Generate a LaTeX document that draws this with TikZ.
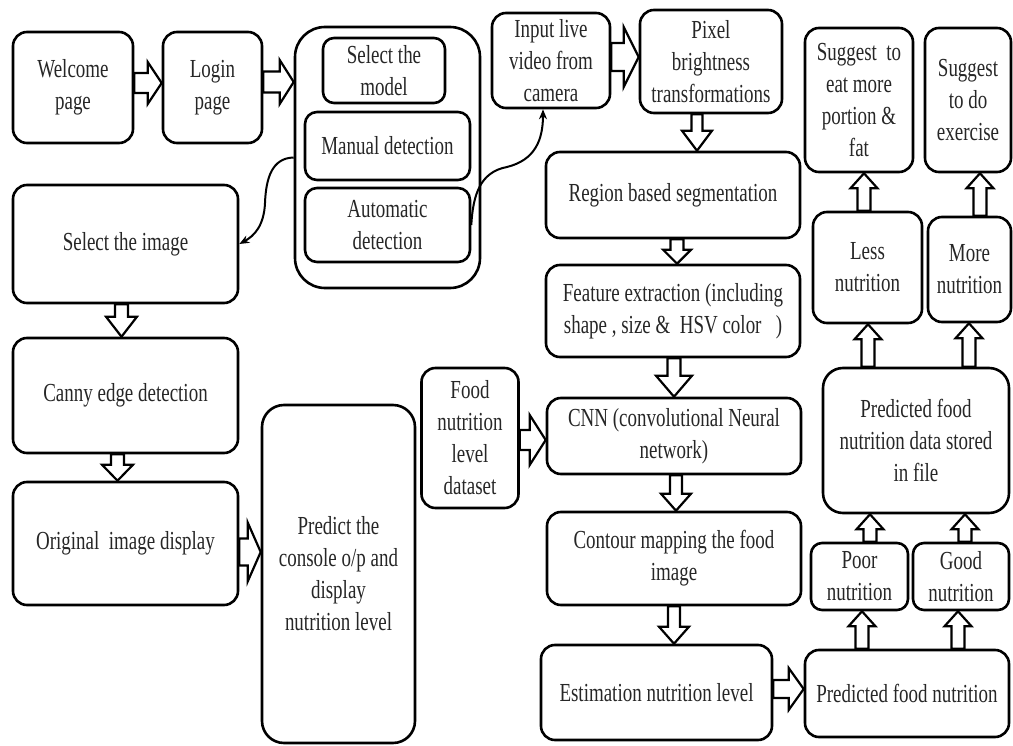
\documentclass[tikz,border=0pt]{standalone}
\usepackage{fontspec}
\setmainfont{Liberation Serif}[FakeStretch=0.73]
\usetikzlibrary{arrows.meta,calc}
\begin{document}
\begin{tikzpicture}[x=1pt,y=-1pt]
\tikzset{
  box/.style={draw=black, line width=2.6pt, rounded corners=14pt, align=center,
    inner sep=2pt, text=black!85, font=\fontsize{26}{32}\selectfont},
  aw/.store in=\aw, aW/.store in=\aW, ah/.store in=\ah,
  aw=6.5pt, aW=15pt, ah=18pt,
  varrow/.style={draw=black, line width=2.2pt, line join=miter, to path={
    let \p1=(\tikztostart), \p2=(\tikztotarget), \n1={sign(\y2-\y1)} in
    ({\x1-\aw},\y1) -- ({\x1-\aw},{\y2-\n1*\ah}) -- ({\x1-\aW},{\y2-\n1*\ah})
    -- (\x1,\y2) -- ({\x1+\aW},{\y2-\n1*\ah}) -- ({\x1+\aw},{\y2-\n1*\ah})
    -- ({\x1+\aw},\y1) -- cycle}},
  harrow/.style={draw=black, line width=2.2pt, line join=miter, to path={
    let \p1=(\tikztostart), \p2=(\tikztotarget), \n1={sign(\x2-\x1)} in
    (\x1,{\y1+\aw}) -- ({\x2-\n1*\ah},{\y1+\aw}) -- ({\x2-\n1*\ah},{\y1+\aW})
    -- (\x2,\y1) -- ({\x2-\n1*\ah},{\y1-\aW}) -- ({\x2-\n1*\ah},{\y1-\aw})
    -- (\x1,{\y1-\aw}) -- cycle}},
  curve/.style={draw=black, line width=2pt, -{Stealth[length=10pt,width=8pt]}}
}
\useasboundingbox (0,0) rectangle (1013,746);
% left part
\node[box, minimum width=120pt, minimum height=111pt] (welcome) at (73,87.5) {Welcome\\page};
\node[box, minimum width=99pt, minimum height=111pt] (login) at (212.5,87.5) {Login\\page};
\node[box, rounded corners=30pt, minimum width=185pt, minimum height=261pt] (group) at (387.5,157.5) {};
\node[box, rounded corners=11pt, minimum width=122pt, minimum height=65pt] (model) at (384,70.5) {Select the\\model};
\node[box, rounded corners=12pt, minimum width=165pt, minimum height=68pt] (manual) at (387.5,146) {Manual detection};
\node[box, rounded corners=12pt, minimum width=165pt, minimum height=74pt] (auto) at (387.5,225) {Automatic\\detection};
\node[box, minimum width=225pt, minimum height=118pt] (selimg) at (125.5,244) {Select the image};
\node[box, minimum width=225pt, minimum height=115pt] (canny) at (125.5,395.5) {Canny edge detection};
\node[box, minimum width=225pt, minimum height=123pt] (original) at (125.5,543.5) {Original\ \ image display};
\node[box, rounded corners=22pt, minimum width=153pt, minimum height=338pt] (predict) at (338.5,574) {Predict the\\console o/p and\\display\\nutrition level};
% middle part
\node[box, minimum width=118pt, minimum height=95pt] (input) at (551,60.5) {Input live\\video from\\camera};
\node[box, minimum width=142pt, minimum height=103pt] (pixel) at (711,61.5) {Pixel\\brightness\\transformations};
\node[box, minimum width=254pt, minimum height=86pt] (region) at (673,195) {Region based segmentation};
\node[box, minimum width=254pt, minimum height=92pt] (feature) at (673,311) {Feature extraction (including\\shape , size \&\ \ HSV color\ \ \ )};
\node[box, minimum width=97pt, minimum height=140pt] (food) at (470,438) {Food\\nutrition\\level\\dataset};
\node[box, minimum width=254pt, minimum height=76pt] (cnn) at (674,436) {CNN (convolutional Neural\\network)};
\node[box, minimum width=254pt, minimum height=93pt] (contour) at (674,558.5) {Contour mapping the food\\image};
\node[box, minimum width=231pt, minimum height=95pt] (estim) at (656.5,692.5) {Estimation nutrition level};
% right part
\node[box, minimum width=204pt, minimum height=87pt] (pfn) at (907,693.5) {Predicted food nutrition};
\node[box, rounded corners=11pt, minimum width=97pt, minimum height=67pt] (poor) at (859.5,576.5) {Poor\\nutrition};
\node[box, rounded corners=11pt, minimum width=96pt, minimum height=67pt] (good) at (961,576.5) {Good\\nutrition};
\node[box, rounded corners=20pt, minimum width=186pt, minimum height=145pt] (stored) at (916,440.5) {Predicted food\\nutrition data stored\\in file};
\node[box, minimum width=109pt, minimum height=111pt] (less) at (867.5,267.5) {Less\\nutrition};
\node[box, minimum width=83pt, minimum height=105pt] (more) at (969.5,269.5) {More\\nutrition};
\node[box, minimum width=108pt, minimum height=144pt] (sugeat) at (859,100) {Suggest\ \ to\\eat more\\portion \&\\fat};
\node[box, minimum width=86pt, minimum height=144pt] (sugex) at (968,100) {Suggest\\to do\\exercise};
% block arrows
\draw[harrow, aw=10pt, aW=21pt, ah=14pt] ([yshift=4.5pt]welcome.east) to (login.west);
\draw[harrow, aw=10.5pt, aW=22pt, ah=14pt] ([yshift=5.5pt]login.east) to (group.west);
\draw[harrow, aw=14pt, aW=30pt, ah=15pt] ([yshift=3.5pt]input.east) to (pixel.west);
\draw[varrow, aw=5.5pt, aW=15pt, ah=20pt] ([xshift=-14pt]pixel.south) to (region.north);
\draw[varrow, aw=6.5pt, aW=14pt, ah=14pt] ([xshift=4pt]region.south) to (feature.north);
\draw[varrow, aw=6.5pt, aW=18pt, ah=21pt] ([xshift=1pt]feature.south) to (cnn.north);
\draw[varrow, aw=6pt, aW=15pt, ah=17pt] ([xshift=2pt]cnn.south) to (contour.north);
\draw[varrow, aw=6pt, aW=15pt, ah=17pt] (contour.south) to (estim.north -| contour.south);
\draw[harrow, aw=9pt, aW=21pt, ah=15pt] ([yshift=3.5pt]estim.east) to (pfn.west);
\draw[varrow, aw=6.5pt, aW=15.5pt, ah=20pt] ([xshift=-4pt]selimg.south) to (canny.north);
\draw[varrow, aw=6.5pt, aW=15.5pt, ah=16pt] ([xshift=-8pt]canny.south) to (original.north);
\draw[harrow, aw=13.5pt, aW=29.5pt, ah=13pt] ([yshift=-8.5pt]original.east) to (predict.west);
\draw[harrow, aw=10pt, aW=25pt, ah=16pt] ([yshift=-2pt]food.east) to (cnn.west);
\draw[varrow, aw=6.5pt, aW=13.5pt, ah=15pt] ([xshift=-3.5pt]less.north) to (sugeat.south);
\draw[varrow, aw=6.5pt, aW=13.5pt, ah=15pt] ([xshift=10.5pt]more.north) to (sugex.south);
\draw[varrow, aw=6.5pt, aW=13.5pt, ah=15pt] ([xshift=-48pt]stored.north) to (less.south);
\draw[varrow, aw=6.5pt, aW=13.5pt, ah=15pt] ([xshift=53pt]stored.north) to (more.south);
\draw[varrow, aw=6.5pt, aW=13.5pt, ah=15pt] ([xshift=10.5pt]poor.north) to (stored.south);
\draw[varrow, aw=6.5pt, aW=13.5pt, ah=15pt] ([xshift=4pt]good.north) to (stored.south);
\draw[varrow, aw=6.5pt, aW=13.5pt, ah=15pt] ([xshift=-45pt]pfn.north) to (poor.south);
\draw[varrow, aw=6.5pt, aW=13.5pt, ah=15pt] ([xshift=51pt]pfn.north) to (good.south);
% curved arrows
\draw[curve] (group.west) .. controls (272,158) and (266,178) .. (265,203) .. controls (264,226) and (254,236) .. (selimg.east);
\draw[curve] (auto.east) .. controls (473,195) and (480,172) .. (507,167) .. controls (535,160) and (543,140) .. ([xshift=-8pt]input.south);
\end{tikzpicture}
\end{document}
